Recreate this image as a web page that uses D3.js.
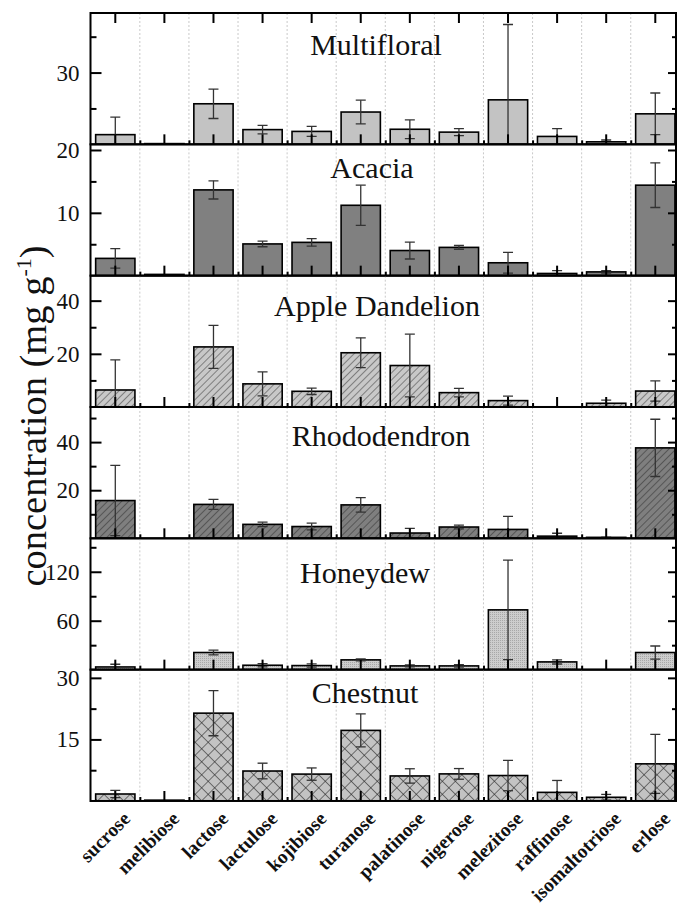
<!DOCTYPE html>
<html>
<head>
<meta charset="utf-8">
<script src="https://cdn.jsdelivr.net/npm/d3@7"></script>
<style>
  body { margin: 0; background: #fff; }
  text { font-family: "Liberation Serif", "Times New Roman", serif; fill: #111; }
</style>
</head>
<body>
<svg id="chart" width="680" height="912"></svg>
<script>
// Sugar categories along the x axis
const categories = ["sucrose", "melibiose", "lactose", "lactulose", "kojibiose", "turanose",
  "palatinose", "nigerose", "melezitose", "raffinose", "isomaltotriose", "erlose"];

// Honey types, one panel each (top to bottom)
const honeyTypes = ["Multifloral", "Acacia", "Apple Dandelion", "Rhododendron", "Honeydew", "Chestnut"];

// Mean concentrations (mg g-1) and standard deviations, per honey type
const multifloralMean = [21.35, 20.1, 25.65, 22.05, 21.8, 24.5, 22.1, 21.7, 26.2, 21.1, 20.35, 24.25];
const multifloralSd   = [2.45, 0, 2.05, 0.6, 0.7, 1.65, 1.3, 0.5, 10.5, 1.1, 0.25, 2.9];
const acaciaMean      = [2.75, 0.2, 13.65, 5.05, 5.3, 11.2, 4.0, 4.5, 2.05, 0.35, 0.6, 14.4];
const acaciaSd        = [1.55, 0, 1.45, 0.45, 0.6, 3.2, 1.35, 0.3, 1.65, 0.45, 0.2, 3.55];
const appleDandelionMean = [6.4, 0, 22.6, 8.7, 5.9, 20.4, 15.6, 5.4, 2.4, 0, 1.4, 6.0];
const appleDandelionSd   = [11.3, 0, 8.1, 4.5, 1.2, 5.6, 11.8, 1.6, 1.7, 0, 1.2, 3.8];
const rhododendronMean = [15.7, 0, 14.1, 5.8, 4.9, 13.9, 2.2, 4.7, 3.7, 0.9, 0.4, 37.6];
const rhododendronSd   = [14.6, 0, 2.1, 0.9, 1.4, 3.0, 1.9, 0.8, 5.4, 1.2, 0.1, 11.9];
const honeydewMean = [3.3, 0, 21, 5.4, 5.0, 12, 4.6, 4.6, 73.3, 9.5, 0, 21];
const honeydewSd   = [3.3, 0, 2.9, 2.0, 2.0, 1.2, 1.2, 1.5, 61, 2.6, 0, 8];
const chestnutMean = [1.7, 0.2, 21.4, 7.3, 6.55, 17.2, 6.1, 6.6, 6.2, 2.1, 0.9, 9.05];
const chestnutSd   = [0.9, 0, 5.5, 1.9, 1.5, 4.0, 1.75, 1.3, 3.7, 2.9, 0.7, 7.2];

// Y axis settings per panel: value range, labelled ticks, minor ticks
const yRanges     = [[20, 38.3], [0, 20.9], [0, 49.4], [0, 54.6], [0, 161], [0, 32]];
const yMajorTicks = [[30], [10, 20], [20, 40], [20, 40], [60, 120], [15, 30]];
const yMinorTicks = [[25, 35], [5, 15], [10, 30], [10, 30, 50], [30, 90, 150], [7.5, 22.5]];

const meanSeries = [multifloralMean, acaciaMean, appleDandelionMean, rhododendronMean, honeydewMean, chestnutMean];
const sdSeries   = [multifloralSd, acaciaSd, appleDandelionSd, rhododendronSd, honeydewSd, chestnutSd];

// ---- layout ----
const plotLeft = 90.5, plotRight = 676;
const plotTop = 13, panelH = 131.33;
const step = 49.09;

// per-panel look: fill pattern, title placement
const panelStyle = [
  { fill: "#c3c3c3", pattern: null,    titleX: 376, titleDy: 42 },
  { fill: "#808080", pattern: null,    titleX: 372, titleDy: 34 },
  { fill: "#c8c8c8", pattern: "hatch", titleX: 377, titleDy: 40 },
  { fill: "#7f7f7f", pattern: "hatch", titleX: 381, titleDy: 39 },
  { fill: "#cdcdcd", pattern: "dots",  titleX: 365, titleDy: 45 },
  { fill: "#c3c3c3", pattern: "cross", titleX: 365, titleDy: 33 }
];

const svg = d3.select("#chart");
const defs = svg.append("defs");

// fill patterns
function makePattern(id, bg, kind) {
  if (kind === "hatch") {
    const p = defs.append("pattern").attr("id", id).attr("patternUnits", "userSpaceOnUse")
      .attr("width", 5).attr("height", 5).attr("patternTransform", "rotate(45)");
    p.append("rect").attr("width", 5).attr("height", 5).attr("fill", bg);
    p.append("line").attr("x1", 0).attr("y1", 0).attr("x2", 0).attr("y2", 5)
      .attr("stroke", "#222").attr("stroke-width", 0.9);
  } else if (kind === "cross") {
    const s = 9.2;
    const p = defs.append("pattern").attr("id", id).attr("patternUnits", "userSpaceOnUse")
      .attr("width", s).attr("height", s).attr("patternTransform", "rotate(45)");
    p.append("rect").attr("width", s).attr("height", s).attr("fill", bg);
    p.append("line").attr("x1", 0).attr("y1", 0).attr("x2", 0).attr("y2", s)
      .attr("stroke", "#222").attr("stroke-width", 1.1);
    p.append("line").attr("x1", 0).attr("y1", 0).attr("x2", s).attr("y2", 0)
      .attr("stroke", "#222").attr("stroke-width", 1.1);
  } else if (kind === "dots") {
    const p = defs.append("pattern").attr("id", id).attr("patternUnits", "userSpaceOnUse")
      .attr("width", 2).attr("height", 2);
    p.append("rect").attr("width", 2).attr("height", 2).attr("fill", bg);
    p.append("rect").attr("width", 1).attr("height", 1).attr("fill", "#a8a8a8");
  }
}

const x = d3.scaleBand()
  .domain(categories)
  .range([plotLeft + 0.25, plotLeft + 0.25 + 12 * step])
  .paddingInner(0.2)
  .paddingOuter(0.1);

honeyTypes.forEach((name, i) => {
  const top = plotTop + i * panelH;
  const bottom = top + panelH;
  const st = panelStyle[i];
  const y = d3.scaleLinear().domain(yRanges[i]).range([bottom, top]);

  let fill = st.fill;
  if (st.pattern) {
    makePattern("pat" + i, st.fill, st.pattern);
    fill = "url(#pat" + i + ")";
  }
  defs.append("clipPath").attr("id", "clip" + i)
    .append("rect").attr("x", plotLeft).attr("y", top)
    .attr("width", plotRight - plotLeft).attr("height", panelH);

  const g = svg.append("g");

  // dotted category separators
  const bounds = d3.range(1, categories.length).map(k => x.range()[0] + k * x.step());
  g.selectAll("line.sep").data(bounds).join("line")
    .attr("x1", d => d).attr("x2", d => d).attr("y1", top).attr("y2", bottom)
    .attr("stroke", "#bdbdbd").attr("stroke-width", 0.8).attr("stroke-dasharray", "2,2");

  const plot = g.append("g").attr("clip-path", "url(#clip" + i + ")");
  const rows = categories.map((c, k) => ({ c, v: meanSeries[i][k], sd: sdSeries[i][k] }));

  // bars
  plot.selectAll("rect.bar").data(rows.filter(d => d.v > yRanges[i][0])).join("rect")
    .attr("x", d => x(d.c)).attr("width", x.bandwidth())
    .attr("y", d => y(d.v)).attr("height", d => y(yRanges[i][0]) - y(d.v))
    .attr("fill", fill).attr("stroke", "#000").attr("stroke-width", 1.6);

  // error bars
  const eb = plot.selectAll("g.err").data(rows.filter(d => d.sd > 0)).join("g")
    .attr("stroke", "#333").attr("stroke-width", 1.3).attr("fill", "none");
  const cap = 5;
  eb.append("line")
    .attr("x1", d => x(d.c) + x.bandwidth() / 2).attr("x2", d => x(d.c) + x.bandwidth() / 2)
    .attr("y1", d => y(d.v + d.sd)).attr("y2", d => y(d.v - d.sd));
  eb.append("line")
    .attr("x1", d => x(d.c) + x.bandwidth() / 2 - cap).attr("x2", d => x(d.c) + x.bandwidth() / 2 + cap)
    .attr("y1", d => y(d.v + d.sd)).attr("y2", d => y(d.v + d.sd));
  eb.append("line")
    .attr("x1", d => x(d.c) + x.bandwidth() / 2 - cap).attr("x2", d => x(d.c) + x.bandwidth() / 2 + cap)
    .attr("y1", d => y(d.v - d.sd)).attr("y2", d => y(d.v - d.sd));

  // y axes (left and right, ticks pointing inward)
  const axL = g.append("g").attr("transform", `translate(${plotLeft},0)`)
    .call(d3.axisRight(y).tickValues(yMajorTicks[i]).tickSize(11).tickFormat(""));
  axL.append("g").call(d3.axisRight(y).tickValues(yMinorTicks[i]).tickSize(6).tickFormat(""));
  const axR = g.append("g").attr("transform", `translate(${plotRight},0)`)
    .call(d3.axisLeft(y).tickValues(yMajorTicks[i]).tickSize(8).tickFormat(""));
  axR.append("g").call(d3.axisLeft(y).tickValues(yMinorTicks[i]).tickSize(4).tickFormat(""));
  [axL, axR].forEach(a => {
    a.selectAll(".domain").remove();
    a.selectAll("line").attr("stroke", "#000").attr("stroke-width", 2);
  });
  // tick labels on the left
  g.selectAll("text.yl").data(yMajorTicks[i]).join("text")
    .attr("x", plotLeft - 11).attr("y", d => y(d)).attr("dy", "0.35em")
    .attr("text-anchor", "end").attr("font-size", 23).text(d => d);

  // x ticks along the bottom of each panel (pointing up)
  const axB = g.append("g").attr("transform", `translate(0,${bottom})`)
    .call(d3.axisTop(x).tickSize(10).tickFormat(""));
  axB.append("g").call(d3.axisTop(d3.scaleIdentity()).tickValues(bounds).tickSize(4).tickFormat(""));
  axB.selectAll(".domain").remove();
  axB.selectAll("line").attr("stroke", "#000").attr("stroke-width", 2);
  if (i === 0) {
    const axT = g.append("g").attr("transform", `translate(0,${top})`)
      .call(d3.axisBottom(x).tickSize(10).tickFormat(""));
    axT.selectAll(".domain").remove();
    axT.selectAll("line").attr("stroke", "#000").attr("stroke-width", 2);
  }

  // panel frame
  g.append("rect").attr("x", plotLeft).attr("y", top)
    .attr("width", plotRight - plotLeft).attr("height", panelH)
    .attr("fill", "none").attr("stroke", "#000").attr("stroke-width", 2);

  // panel title
  g.append("text").attr("x", st.titleX).attr("y", top + st.titleDy)
    .attr("text-anchor", "middle").attr("font-size", 30).text(name);
});

// category labels, rotated
const xBottom = plotTop + 6 * panelH;
svg.append("g").selectAll("text").data(categories).join("text")
  .attr("transform", d => `translate(${x(d) + x.bandwidth() / 2 + 16},${xBottom + 19}) rotate(-45)`)
  .attr("text-anchor", "end").attr("font-size", 19.5).attr("font-weight", "bold")
  .text(d => d);

// y axis title
const yt = svg.append("text")
  .attr("transform", `translate(46,416) rotate(-90)`)
  .attr("text-anchor", "middle").attr("font-size", 38.5);
yt.append("tspan").text("concentration (mg g");
yt.append("tspan").attr("font-size", 22).attr("dy", -15).text("-1");
yt.append("tspan").attr("dy", 15).text(")");
</script>
</body>
</html>
